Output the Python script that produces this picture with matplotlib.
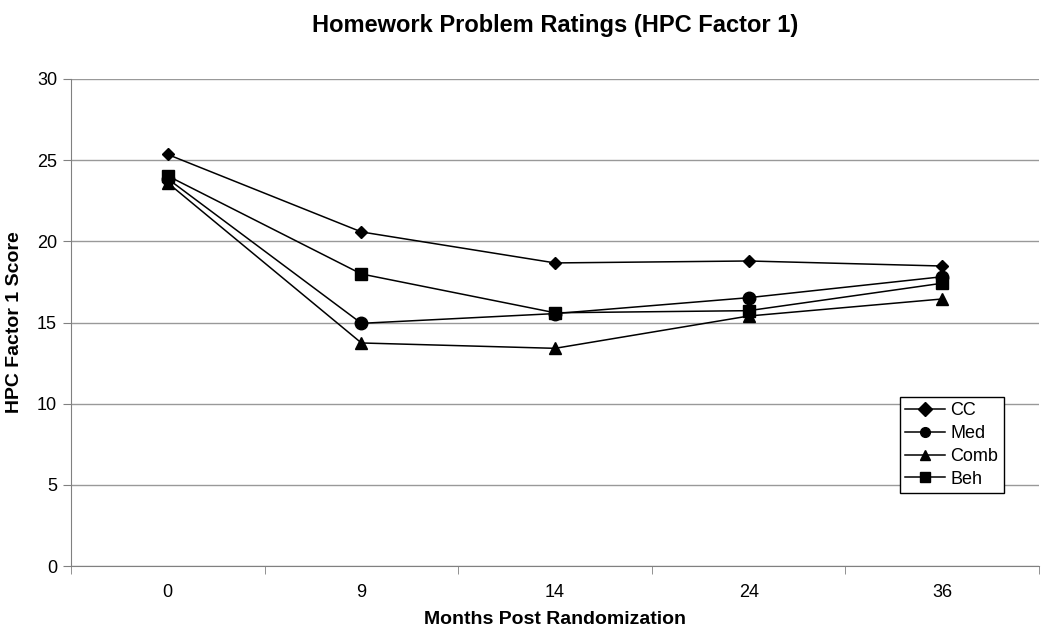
import matplotlib
matplotlib.use('Agg')
import matplotlib.pyplot as plt
import numpy as np

plt.rcParams['font.family'] = ['Liberation Sans', 'DejaVu Sans']

months = ['0', '9', '14', '24', '36']
cc = [25.35, 20.58, 18.67, 18.79, 18.48]
med = [23.85, 14.95, 15.55, 16.53, 17.82]
comb = [23.6, 13.74, 13.41, 15.4, 16.45]
beh = [24.03, 17.99, 15.6, 15.73, 17.42]

fig = plt.figure(figsize=(10.5, 6.36), dpi=100)
ax = fig.add_axes([0.0676, 0.110, 0.922, 0.7658])
x = np.arange(len(months))

kw = dict(color='black', lw=1.1, markeredgecolor='black', markerfacecolor='black')
ax.plot(x, cc, marker='D', ms=6, label='CC', **kw)
ax.plot(x, med, marker='o', ms=9, label='Med', **kw)
ax.plot(x, comb, marker='^', ms=9, label='Comb', **kw)
ax.plot(x, beh, marker='s', ms=9, label='Beh', **kw)

ax.set_xlim(-0.5, len(months) - 0.5)
ax.set_ylim(0, 30)
ax.set_yticks(range(0, 31, 5))
ax.set_xticks(x)
ax.set_xticklabels(months)
ax.set_xticks(np.arange(-0.5, len(months), 1), minor=True)
ax.tick_params(axis='x', which='major', length=0, pad=13, labelsize=13)
ax.tick_params(axis='x', which='minor', length=6, color='#808080')
ax.tick_params(axis='y', length=6, color='#808080', labelsize=13, pad=4)
ax.yaxis.grid(True, color='#999999', lw=1)
ax.set_axisbelow(True)
for s in ['top', 'right']:
    ax.spines[s].set_visible(False)
for s in ['left', 'bottom']:
    ax.spines[s].set_color('#808080')

ax.set_title('Homework Problem Ratings (HPC Factor 1)', fontsize=17, fontweight='bold', pad=34)
ax.set_xlabel('Months Post Randomization', fontsize=14, fontweight='bold', labelpad=7)
ax.set_ylabel('HPC Factor 1 Score', fontsize=14, fontweight='bold', labelpad=10)

leg = ax.legend(loc='upper left', bbox_to_anchor=(900 / 1050, 1 - 397 / 636),
                bbox_transform=fig.transFigure, fontsize=13, frameon=True,
                fancybox=False, edgecolor='black', framealpha=1,
                handlelength=2.2, handletextpad=0.3, borderpad=0.3,
                labelspacing=0.32, borderaxespad=0)
leg.get_frame().set_linewidth(1)
for h in leg.legend_handles:
    h.set_markersize(7)

fig.savefig('out.png', dpi=100)
